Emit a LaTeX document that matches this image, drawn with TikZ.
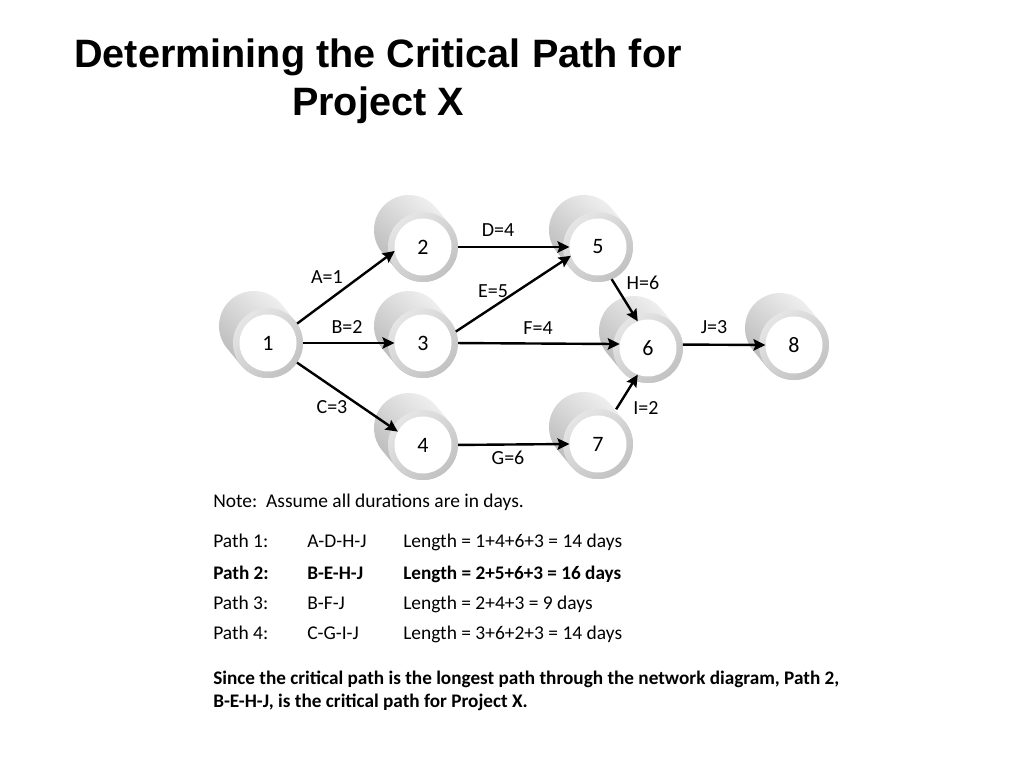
\documentclass[tikz,border=0pt]{standalone}
\usepackage{fontspec}
\setmainfont{Carlito}
\newfontfamily\titlefont{Liberation Sans}
\usetikzlibrary{arrows.meta,calc}
\begin{document}
\begin{tikzpicture}[x=0.75pt,y=0.75pt,
  body/.style={shading=axis, top color=gray!8, bottom color=gray!58, shading angle=-40},
  ring/.style={shading=axis, top color=gray!20, bottom color=gray!48, shading angle=40},
  face/.style={circle, minimum size=42.75pt, inner sep=0pt, outer sep=0pt, fill=white,
    font=\fontsize{16.5}{18}\selectfont},
  arr/.style={line width=1.8pt, -{Stealth[length=9pt,width=8.5pt,inset=1.5pt]}, shorten <=4.9pt},
  lbl/.style={font=\fontsize{15}{17}\selectfont, inner sep=0pt},
  txt/.style={font=\fontsize{14.6}{17}\selectfont, anchor=base west, inner sep=0pt},
  btxt/.style={txt, font=\fontsize{14.4}{17}\selectfont\bfseries},
  ttl/.style={font=\titlefont\bfseries\fontsize{29.7}{36}\selectfont, anchor=base, inner sep=0pt}
]
\useasboundingbox[fill=white] (0,0) rectangle (1024,768);

% title
\node[ttl] (t1) at (378,700) {Determining the Critical Path for};
\node[ttl] (t2) at (378,652) {Project X};

% cylinder bodies and grey rims
\foreach \x/\y in {268/425,423/521,423/425,423/323,598/521,648/420,598/324,794/423}{
  \shade[body] (\x-14,\y+17) ++(39.5:35) arc[start angle=39.5,end angle=219.5,radius=35]
    -- ++(14,-17) arc[start angle=219.5,end angle=399.5,radius=35] -- cycle;
  \shade[ring] (\x,\y) circle[radius=35];
}

% nodes
\node[face] (n1) at (268,425) {1};
\node[face] (n2) at (423,521) {2};
\node[face] (n3) at (423,425) {3};
\node[face] (n4) at (423,323) {4};
\node[face] (n5) at (598,521) {5};
\node[face] (n6) at (648,420) {6};
\node[face] (n7) at (598,324) {7};
\node[face] (n8) at (794,423) {8};

% arrows
\draw[arr] (n1.33.7) -- (n2.188);
\draw[arr] (n1.0) -- (n3.180);
\draw[arr] (n1.326.3) -- (n4.152);
\draw[arr] (n2.0) -- (n5.180);
\draw[arr] (n3.16) -- (n5.198);
\draw[arr] (n3.0) -- (n6.172);
\draw[arr] (n5.291) -- (n6.111);
\draw[arr] (n4.0) -- (n7.180);
\draw[arr, shorten <=8pt] (n7.64) -- (n6.249);
\draw[arr] (n6.7) -- (n8.180);

% labels
\node[lbl] (lA) at (327,491) {A=1};
\node[lbl] (lB) at (347,441) {B=2};
\node[lbl] (lC) at (332,361) {C=3};
\node[lbl] (lD) at (498,538) {D=4};
\node[lbl] (lE) at (493,477) {E=5};
\node[lbl] (lF) at (538,440) {F=4};
\node[lbl] (lG) at (508,310) {G=6};
\node[lbl] (lH) at (643,485) {H=6};
\node[lbl] (lI) at (646,360) {I=2};
\node[lbl] (lJ) at (714,441) {J=3};

% text
\node[txt] (note) at (213,260) {Note:\ \ Assume all durations are in days.};
\node[txt] (p1a) at (213,220) {Path 1:};
\node[txt] (p1b) at (307,220) {A-D-H-J};
\node[txt] (p1c) at (403,220) {Length = 1+4+6+3 = 14 days};
\node[btxt] (p2a) at (213,189) {Path 2:};
\node[btxt] (p2b) at (307,189) {B-E-H-J};
\node[btxt] (p2c) at (403,189) {Length = 2+5+6+3 = 16 days};
\node[txt] (p3a) at (213,159) {Path 3:};
\node[txt] (p3b) at (307,159) {B-F-J};
\node[txt] (p3c) at (403,159) {Length = 2+4+3 = 9 days};
\node[txt] (p4a) at (213,129) {Path 4:};
\node[txt] (p4b) at (307,129) {C-G-I-J};
\node[txt] (p4c) at (403,129) {Length = 3+6+2+3 = 14 days};
\node[btxt] (s1) at (213,84) {Since the critical path is the longest path through the network diagram, Path 2,};
\node[btxt] (s2) at (213,61) {B-E-H-J, is the critical path for Project X.};
\end{tikzpicture}
\end{document}
